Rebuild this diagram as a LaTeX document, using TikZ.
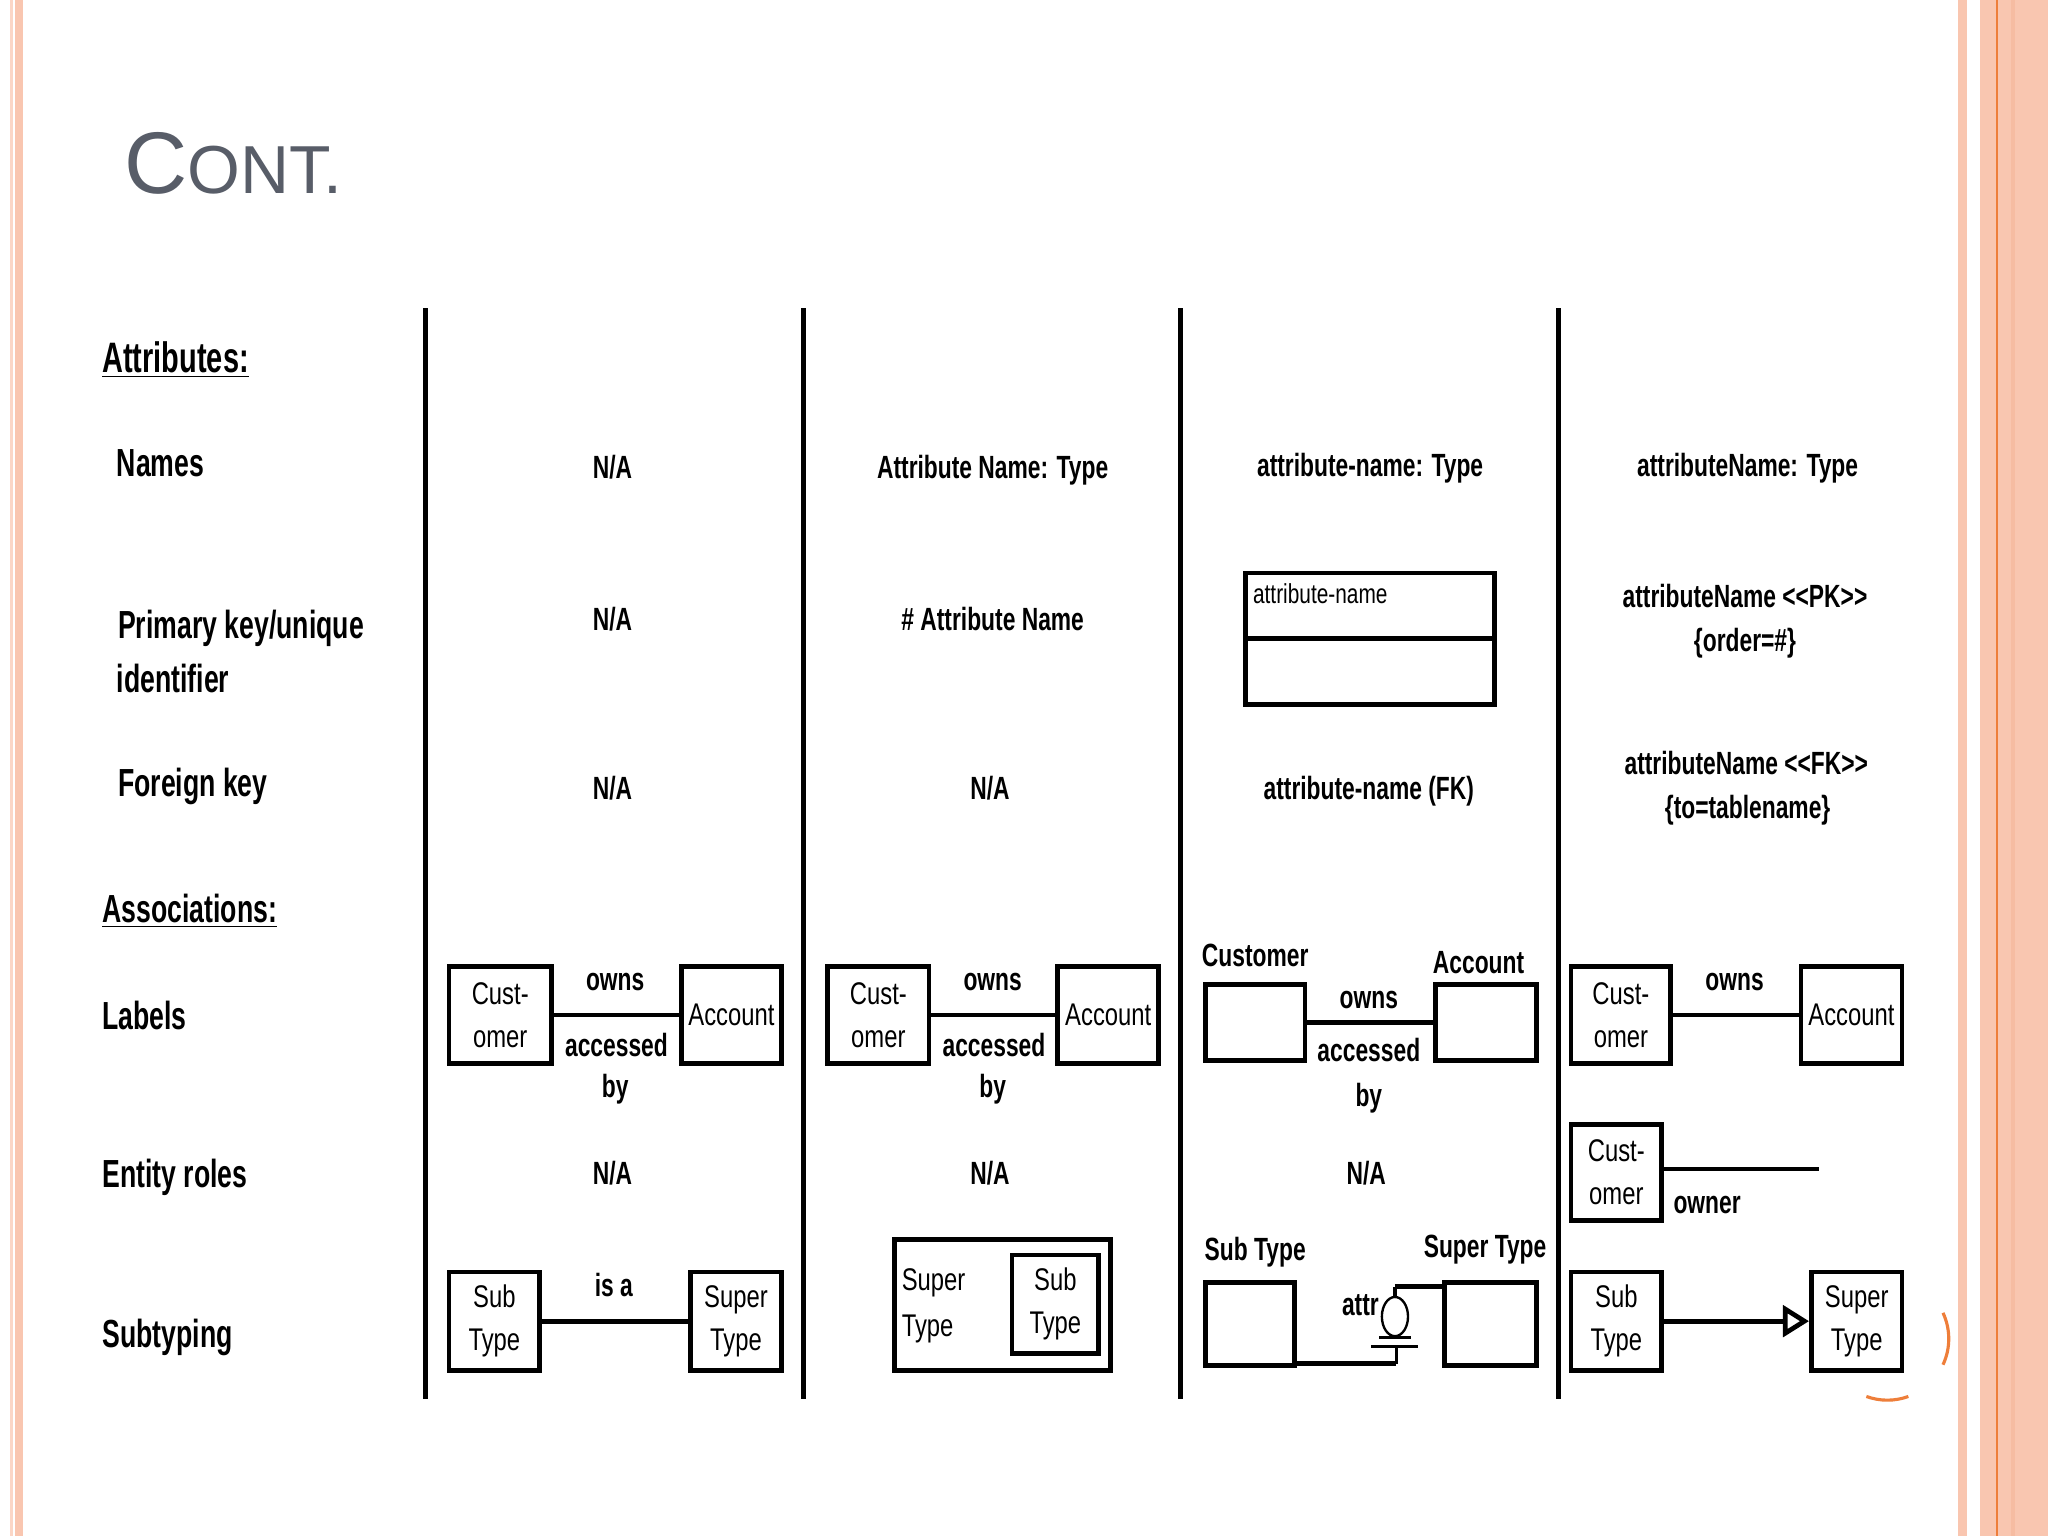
\documentclass[tikz,border=0pt]{standalone}
\usepackage{fontspec}
\setmainfont{Liberation Sans}
\newfontfamily\fLab[FakeStretch=0.68]{Liberation Sans}
\newfontfamily\fCol[FakeStretch=0.71]{Liberation Sans}
\newfontfamily\fBx[FakeStretch=0.76]{Liberation Sans}
\newfontfamily\fSm[FakeStretch=0.76]{Liberation Sans}
\usetikzlibrary{arrows.meta,shapes.geometric}
\definecolor{salmon}{RGB}{249,198,176}
\definecolor{salmonlt}{RGB}{251,214,198}
\definecolor{salmondk}{RGB}{246,188,162}
\definecolor{orangeln}{RGB}{238,126,58}
\definecolor{titlegray}{RGB}{88,93,104}
\tikzset{
 lbl/.style={anchor=base west, inner sep=0pt, font=\fLab\bfseries\fontsize{15}{18}\selectfont},
 ctxt/.style={anchor=base, inner sep=0pt, font=\fCol\bfseries\fontsize{12.3}{15}\selectfont},
 ebox/.style={draw, line width=1.8pt, inner sep=0pt, align=center, font=\fBx\fontsize{12}{16.5}\selectfont},
 conn/.style={line width=1.8pt},
 colline/.style={line width=1.9pt},
 thinln/.style={line width=0.9pt},
 stub/.style={line width=1.2pt},
}
\begin{document}
\begin{tikzpicture}[x=0.5pt,y=-0.5pt]
\useasboundingbox (0,0) rectangle (1568,1176);
\fill[white] (0,0) rectangle (1568,1176);
% slide borders
\fill[salmonlt] (7.7,0) rectangle (9.7,1176);
\fill[salmon] (11.5,0) rectangle (17.8,1176);
\fill[salmon] (1499,0) rectangle (1506,1176);
\fill[salmon] (1516,0) rectangle (1568,1176);
\fill[salmondk] (1540,0) rectangle (1543,1176);
\draw[orangeln, line width=0.8pt] (1529,0) -- (1529,1176);
% partial orange circle
\draw[orangeln, line width=1.2pt] (1445,1025) ++(-25:23.5pt) arc[start angle=-25, end angle=25, radius=23.5pt];
\draw[orangeln, line width=1.2pt] (1445,1025) ++(250:23.5pt) arc[start angle=250, end angle=290, radius=23.5pt];

% title
\node[anchor=base west, inner sep=0pt, text=titlegray, font=\fontsize{33.5}{40}\selectfont] (title) at (95,148) {C{\fontsize{26}{30}\selectfont ONT.}};

% column separators
\draw[colline] (326,236) -- (326,1071);
\draw[colline] (615,236) -- (615,1071);
\draw[colline] (904,236) -- (904,1071);
\draw[colline] (1193,236) -- (1193,1071);

% row labels
\node[lbl, font=\fLab\bfseries\fontsize{16.3}{19}\selectfont] (hAttr) at (78,285) {\underline{Attributes:}};
\node[lbl] (rNames) at (89,365) {Names};
\node[lbl] (rPK1) at (90,488.5) {Primary key/unique};
\node[lbl] (rPK2) at (89,530) {identifier};
\node[lbl] (rFK) at (90,610) {Foreign key};
\node[lbl] (hAssoc) at (78,706) {\underline{Associations:}};
\node[lbl] (rLabels) at (78,788) {Labels};
\node[lbl] (rRoles) at (78,909) {Entity roles};
\node[lbl] (rSub) at (78,1032) {Subtyping};

% ---------- attribute rows ----------
\node[ctxt] (n1) at (469,366) {N/A};
\node[ctxt] (n2) at (760,366) {Attribute Name: Type};
\node[ctxt] (n3) at (1049,365) {attribute-name: Type};
\node[ctxt] (n4) at (1338,365) {attributeName: Type};

\node[ctxt] (k1) at (469,483) {N/A};
\node[ctxt] (k2) at (760,483) {\# Attribute Name};
\node[draw, line width=1.8pt, minimum width=95.2pt, minimum height=50.2pt, inner sep=0pt] (ab3) at (1049,489) {};
\draw[conn] (ab3.west) -- (ab3.east);
\node[anchor=base west, inner sep=0pt, font=\fSm\fontsize{10.5}{12}\selectfont] (abt) at (959,462) {attribute-name};
\node[ctxt] (k4a) at (1336,465) {attributeName <{}<PK>{}>};
\node[ctxt] (k4b) at (1336,499) {\{order=\#\}};

\node[ctxt] (f1) at (469,612) {N/A};
\node[ctxt] (f2) at (758,612) {N/A};
\node[ctxt] (f3) at (1048,612) {attribute-name (FK)};
\node[ctxt] (f4a) at (1337,593) {attributeName <{}<FK>{}>};
\node[ctxt] (f4b) at (1338,627) {\{to=tablename\}};

% ---------- labels row ----------
\node[ebox, minimum width=39.2pt, minimum height=37.2pt] (c1) at (383,777) {Cust-\\omer};
\node[ebox, minimum width=38.2pt, minimum height=37.2pt] (a1) at (560,777) {Account};
\draw[conn] (c1) -- (a1);
\node[ctxt] (own1) at (471,758) {owns};
\node[ctxt] (acc1) at (472,809) {accessed};
\node[ctxt] (by1) at (471,840) {by};

\node[ebox, minimum width=38.7pt, minimum height=37.2pt] (c2) at (672.5,777) {Cust-\\omer};
\node[ebox, minimum width=38.7pt, minimum height=37.2pt] (a2) at (848.5,777) {Account};
\draw[conn] (c2) -- (a2);
\node[ctxt] (own2) at (760,758) {owns};
\node[ctxt] (acc2) at (761,809) {accessed};
\node[ctxt] (by2) at (760,840) {by};

\node[ebox, minimum width=38.2pt, minimum height=29.2pt] (c3) at (961,783) {};
\node[ebox, minimum width=38.7pt, minimum height=29.2pt] (a3) at (1137.5,783) {};
\draw[conn] (c3) -- (a3);
\node[ctxt] (c3l) at (961,740) {Customer};
\node[ctxt] (a3l) at (1132,745) {Account};
\node[ctxt] (own3) at (1048,772) {owns};
\node[ctxt] (acc3) at (1048,813) {accessed};
\node[ctxt] (by3) at (1048,847) {by};

\node[ebox, minimum width=38.2pt, minimum height=37.2pt] (c4) at (1241,777) {Cust-\\omer};
\node[ebox, minimum width=38.7pt, minimum height=37.2pt] (a4) at (1417.5,777) {Account};
\draw[conn] (c4) -- (a4);
\node[ctxt] (own4) at (1328,758) {owns};

% ---------- entity roles row ----------
\node[ctxt] (r1) at (469,907) {N/A};
\node[ctxt] (r2) at (758,907) {N/A};
\node[ctxt] (r3) at (1046,907) {N/A};
\node[ebox, minimum width=34.7pt, minimum height=36.7pt] (e4) at (1237.5,897.5) {Cust-\\omer};
\coordinate (r4end) at (1393,895);
\draw[conn] (e4.east |- r4end) -- (r4end);
\node[ctxt] (own4r) at (1307,929) {owner};

% ---------- subtyping row ----------
\node[ebox, minimum width=34.7pt, minimum height=37.7pt] (s1) at (378.5,1011.5) {Sub\\Type};
\node[ebox, minimum width=34.7pt, minimum height=37.7pt] (p1) at (563.5,1011.5) {Super\\Type};
\draw[conn] (s1) -- (p1);
\node[ctxt] (isa1) at (470,993) {is a};

\node[ebox, minimum width=82.7pt, minimum height=50.2pt] (o2) at (767.5,999) {};
\node[ebox, minimum width=33.2pt, minimum height=37.7pt] (i2) at (808,998.5) {Sub\\Type};
\node[anchor=west, inner sep=0pt, align=left, font=\fBx\fontsize{12}{17.5}\selectfont] (o2t) at (690,1000) {Super\\Type};

\node[ebox, minimum width=34.2pt, minimum height=31.7pt] (s3) at (957,1013.5) {};
\node[ebox, minimum width=35.2pt, minimum height=31.7pt] (p3) at (1141,1013.5) {};
\node[ctxt] (s3l) at (961,965) {Sub Type};
\node[ctxt] (p3l) at (1137,963) {Super Type};
\coordinate (b3) at (1069,1044);
\coordinate (g3) at (1069,1031);
\draw[conn] (b3 -| s3.east) -- (b3);
\draw[stub] (b3) -- (g3);
\draw[thinln] (1050,1031) -- (1086,1031);
\draw[thinln] (1056,1024) -- (1080,1024);
\node[draw, ellipse, thinln, minimum width=10pt, minimum height=15pt, inner sep=0pt] (ov3) at (1068,1008) {};
\coordinate (t3) at (1068,985);
\draw[stub] (ov3.north) -- (t3);
\draw[conn] (t3) -- (t3 -| p3.west);
\node[ctxt, anchor=base east] (attr3) at (1056,1007) {attr};

\node[ebox, minimum width=34.7pt, minimum height=37.7pt] (s4) at (1237.5,1011.5) {Sub\\Type};
\node[ebox, minimum width=34.7pt, minimum height=37.7pt] (p4) at (1421.5,1011.5) {Super\\Type};
\draw[conn, -{Triangle[open, length=10pt, width=12pt, line width=1.8pt]}] (s4) -- (p4);
\end{tikzpicture}
\end{document}
